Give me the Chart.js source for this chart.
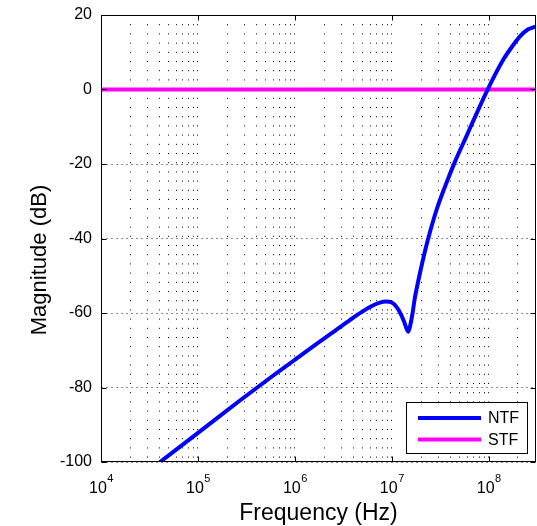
<!DOCTYPE html>
<html>
<head>
<meta charset="utf-8">
<script src="https://cdn.jsdelivr.net/npm/chart.js@4.4.1/dist/chart.umd.min.js"></script>
<style>
  html, body { margin: 0; padding: 0; background: #fff; }
  canvas { display: block; }
</style>
</head>
<body>
<canvas id="tfChart" width="537" height="526"></canvas>
<script>
// NTF magnitude (Hz, dB)
const ntfFreq = [4.057e4, 1.049e5, 2.71e5, 5.525e5, 9.766e5, 1.608e6, 2.585e6, 3.69e6, 4.907e6,
  6.22e6, 7.52e6, 8.67e6, 1.0e7, 1.126e7, 1.238e7, 1.33e7, 1.411e7, 1.472e7, 1.533e7, 1.635e7,
  1.726e7, 1.854e7, 2.102e7, 2.35e7, 2.89e7, 3.52e7, 4.46e7, 5.89e7, 6.84e7, 9.76e7, 1.404e8,
  1.727e8, 2.087e8, 2.524e8, 3.07e8];
const ntfMag = [-100, -91.8, -83.5, -77.45, -72.75, -68.6, -64.8, -61.9, -59.7,
  -58.1, -57.2, -56.9, -57.2, -58.5, -60.3, -62.15, -64.0, -65.0, -63.8, -60.1,
  -56.0, -51.95, -45.5, -40.4, -32.35, -26.2, -19.5, -12.5, -8.7, 0.05, 7.9,
  11.4, 14.2, 16.1, 16.9];

// STF is flat at 0 dB
const stfFreq = [1e4, 3.07e8];
const stfMag = [0, 0];

const xMin = 1e4;
const xMax = 3.07e8;
const xDecades = [4, 5, 6, 7, 8];
const yTicks = [-100, -80, -60, -40, -20, 0, 20];

const seriesNames = ['NTF', 'STF'];
const seriesColors = ['#0000ff', '#ff00ff'];

const FONT = '"Liberation Sans", Arial, sans-serif';

function toPoints(xs, ys) {
  return xs.map((v, i) => ({ x: v, y: ys[i] }));
}

// grid positions: 1..9 x 10^n
function gridValues() {
  const vals = [];
  for (let e = 4; e <= 8; e++) {
    for (let m = 1; m <= 9; m++) {
      const v = m * Math.pow(10, e);
      if (v > xMin && v <= xMax) vals.push(v);
    }
  }
  return vals;
}

const matlabAxes = {
  id: 'matlabAxes',
  afterDraw(chart) {
    const { ctx, chartArea: a, scales } = chart;
    const x = scales.x, y = scales.y;
    const L = Math.round(a.left) + 0.5, R = Math.round(a.right) - 0.5;
    const T = Math.round(a.top) + 0.5, B = Math.round(a.bottom) - 0.5;
    ctx.save();

    // box
    ctx.strokeStyle = '#000';
    ctx.lineWidth = 1;
    ctx.setLineDash([]);
    ctx.strokeRect(L, T, R - L, B - T);

    // inward ticks
    ctx.beginPath();
    xDecades.forEach(e => {
      const px = Math.round(x.getPixelForValue(Math.pow(10, e))) + 0.5;
      ctx.moveTo(px, B); ctx.lineTo(px, B - 5);
      ctx.moveTo(px, T); ctx.lineTo(px, T + 5);
    });
    yTicks.forEach(v => {
      const py = Math.round(y.getPixelForValue(v)) + 0.5;
      ctx.moveTo(L, py); ctx.lineTo(L + 5, py);
      ctx.moveTo(R, py); ctx.lineTo(R - 5, py);
    });
    ctx.stroke();

    // x tick labels 10^n
    ctx.fillStyle = '#000';
    ctx.textBaseline = 'alphabetic';
    ctx.textAlign = 'left';
    xDecades.forEach(e => {
      const px = x.getPixelForValue(Math.pow(10, e));
      ctx.font = '16px ' + FONT;
      const wb = ctx.measureText('10').width;
      ctx.font = '11px ' + FONT;
      const we = ctx.measureText(String(e)).width;
      const start = px - (wb + we) / 2;
      ctx.font = '16px ' + FONT;
      ctx.fillText('10', start, 493);
      ctx.font = '11px ' + FONT;
      ctx.fillText(String(e), start + wb + 0.5, 482);
    });

    // axis titles
    ctx.textAlign = 'center';
    ctx.font = '23px ' + FONT;
    ctx.fillText('Frequency (Hz)', (a.left + a.right) / 2, 520);
    ctx.save();
    ctx.translate(40, 260);
    ctx.rotate(-Math.PI / 2);
    ctx.textBaseline = 'middle';
    ctx.font = '22px ' + FONT;
    ctx.fillText('Magnitude (dB)', 0, 0);
    ctx.restore();

    // legend box
    const lx = 406.5, ly = 402.5, lw = 121, lh = 51;
    ctx.fillStyle = '#fff';
    ctx.fillRect(lx, ly, lw, lh);
    ctx.strokeStyle = '#000';
    ctx.lineWidth = 1;
    ctx.strokeRect(lx, ly, lw, lh);
    ctx.textAlign = 'left';
    ctx.textBaseline = 'middle';
    ctx.font = '16px ' + FONT;
    seriesNames.forEach((name, i) => {
      const yy = 418 + i * 21.5;
      ctx.strokeStyle = seriesColors[i];
      ctx.lineWidth = 4;
      ctx.beginPath();
      ctx.moveTo(418, yy); ctx.lineTo(481, yy);
      ctx.stroke();
      ctx.fillStyle = '#000';
      ctx.fillText(name, 488, yy + 1);
    });

    ctx.restore();
  }
};

new Chart(document.getElementById('tfChart'), {
  type: 'line',
  data: {
    datasets: [
      {
        label: seriesNames[0],
        data: toPoints(ntfFreq, ntfMag),
        borderColor: seriesColors[0],
        borderWidth: 4,
        pointRadius: 0,
        cubicInterpolationMode: 'monotone',
        fill: false
      },
      {
        label: seriesNames[1],
        data: toPoints(stfFreq, stfMag),
        borderColor: seriesColors[1],
        borderWidth: 4,
        pointRadius: 0,
        fill: false
      }
    ]
  },
  options: {
    responsive: false,
    animation: false,
    devicePixelRatio: 1,
    layout: { padding: { top: 15, right: 1, left: 0, bottom: 0 } },
    plugins: {
      legend: { display: false },
      tooltip: { enabled: false }
    },
    scales: {
      x: {
        type: 'logarithmic',
        min: xMin,
        max: xMax,
        afterBuildTicks: axis => {
          axis.ticks = gridValues().map(v => ({ value: v }));
        },
        afterFit: axis => { axis.height = 64; },
        ticks: { display: false },
        border: { display: false, dash: [1, 8.2], dashOffset: 0 },
        grid: { color: '#000', lineWidth: 1, drawTicks: false }
      },
      y: {
        type: 'linear',
        min: -100,
        max: 20,
        afterBuildTicks: axis => {
          axis.ticks = yTicks.map(v => ({ value: v }));
        },
        afterFit: axis => {
          axis.width = 101;
          axis.paddingTop = 0;
          axis.paddingBottom = 0;
        },
        ticks: {
          color: '#000',
          padding: 9,
          font: { family: FONT, size: 16 }
        },
        border: { display: false, dash: [2, 3] },
        grid: { color: '#8a8a8a', lineWidth: 1, drawTicks: false }
      }
    }
  },
  plugins: [matlabAxes]
});
</script>
</body>
</html>
